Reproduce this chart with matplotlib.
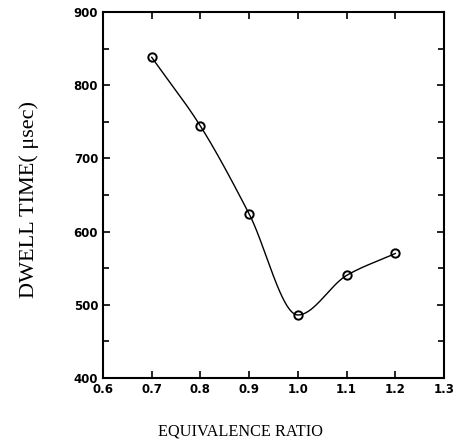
import numpy as np
import matplotlib.pyplot as plt

# equivalence ratio vs. dwell time
phi = [0.7, 0.8, 0.9, 1.0, 1.1, 1.2]
dwell = [838, 744, 624, 486, 540, 570]
x_ticks = [0.6, 0.7, 0.8, 0.9, 1.0, 1.1, 1.2, 1.3]
y_ticks = [400, 500, 600, 700, 800, 900]


def pchip(x, y, n=400):
    # shape-preserving cubic through the points (Fritsch-Carlson slopes)
    x = np.asarray(x, float)
    y = np.asarray(y, float)
    h = np.diff(x)
    d = np.diff(y) / h
    m = np.zeros_like(y)
    for i in range(1, len(x) - 1):
        if d[i - 1] * d[i] > 0:
            w1 = 2 * h[i] + h[i - 1]
            w2 = h[i] + 2 * h[i - 1]
            m[i] = (w1 + w2) / (w1 / d[i - 1] + w2 / d[i])
    m[0] = d[0]
    m[-1] = d[-1]
    xs = np.linspace(x[0], x[-1], n)
    idx = np.clip(np.searchsorted(x, xs) - 1, 0, len(x) - 2)
    t = (xs - x[idx]) / h[idx]
    h00 = 2 * t**3 - 3 * t**2 + 1
    h10 = t**3 - 2 * t**2 + t
    h01 = -2 * t**3 + 3 * t**2
    h11 = t**3 - t**2
    ys = h00 * y[idx] + h10 * h[idx] * m[idx] + h01 * y[idx + 1] + h11 * h[idx] * m[idx + 1]
    return xs, ys


fig = plt.figure(figsize=(4.63, 4.42), dpi=100)
ax = fig.add_axes([0.2225, 0.145, 0.7365, 0.828])

xs, ys = pchip(phi, dwell)
ax.plot(xs, ys, color='black', lw=1.0)
ax.plot(phi, dwell, 'o', mfc='none', mec='black', ms=6, mew=1.4)

ax.set_xlim(0.6, 1.3)
ax.set_ylim(400, 900)
ax.set_xticks(x_ticks)
ax.set_xticklabels(['%.1f' % v for v in x_ticks])
ax.set_yticks(y_ticks)
ax.set_yticks(np.arange(450, 900, 100), minor=True)
ax.tick_params(which='both', direction='in', top=True, right=True,
               labelsize=8.5, width=1.2)
ax.tick_params(which='major', length=5)
ax.tick_params(which='minor', length=4)
ax.tick_params(axis='x', pad=4)
for s in ax.spines.values():
    s.set_linewidth(1.5)
for lab in ax.get_xticklabels() + ax.get_yticklabels():
    lab.set_fontweight('bold')

fig.text(240 / 463, 1 - 431 / 442, 'EQUIVALENCE RATIO', family='Liberation Serif',
         fontsize=11.7, ha='center', va='center')
fig.text(29 / 463, 1 - 200 / 442, 'DWELL TIME( μsec)', family='Liberation Serif',
         fontsize=16, ha='center', va='center', rotation=90)

fig.savefig('out.png', dpi=100)
